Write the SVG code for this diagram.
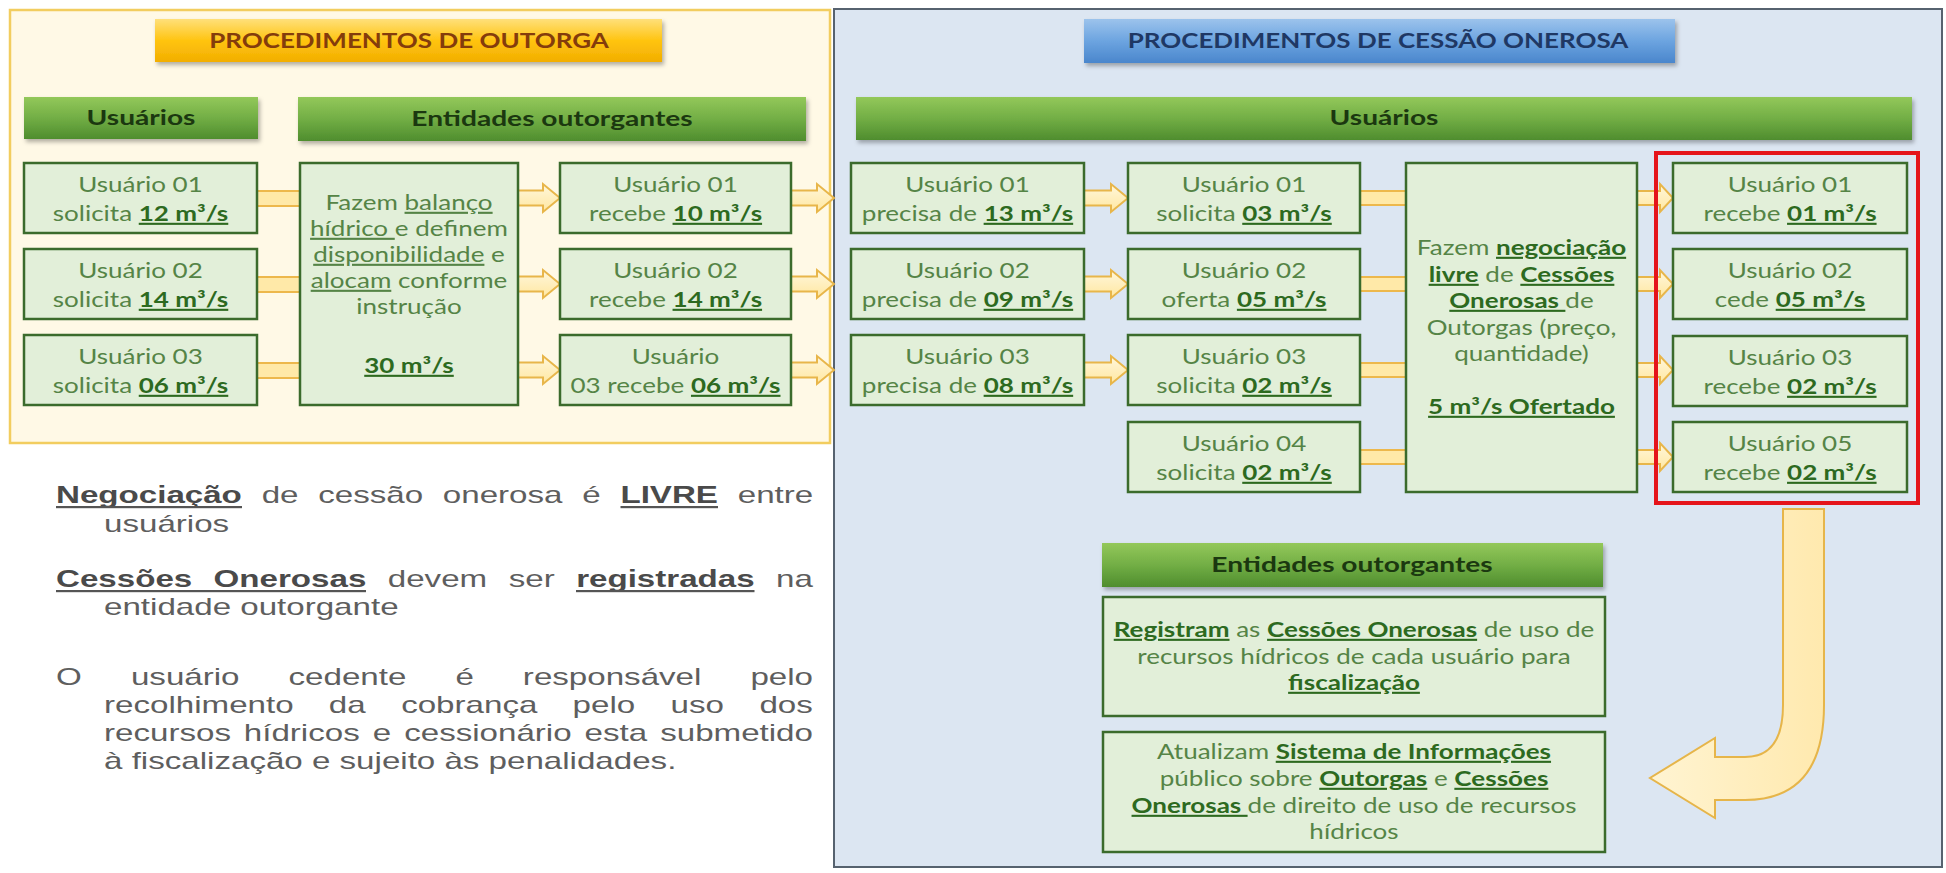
<svg xmlns="http://www.w3.org/2000/svg" width="1946" height="873" viewBox="0 0 1946 873">
<style>
.panelY{fill:#FFF9E6;stroke:#F2CD5F;stroke-width:2.5}
.panelB{fill:#DCE6F2;stroke:#56626F;stroke-width:2}
.box{fill:#E2EFD9;stroke:#3B6B2C;stroke-width:2.5}
.bar{fill:url(#gGreen);filter:url(#sh)}
.t{font-family:Lato,"Open Sans","Liberation Sans",sans-serif;font-size:21px;fill:#558446;text-anchor:middle}
.h{font-family:Lato,"Open Sans","Liberation Sans",sans-serif;font-size:21px;font-weight:bold;fill:#1B3810;text-anchor:middle}
.ti{font-family:Lato,"Open Sans","Liberation Sans",sans-serif;font-size:20px;font-weight:bold;text-anchor:middle}
.b{font-weight:bold;fill:#2D6A1F;text-decoration:underline}
.u{text-decoration:underline}
.p{font-family:"Liberation Sans",Arial,sans-serif;font-size:24px;fill:#5E5E5E}
.pb{font-weight:bold;fill:#4A4A4A}
.ul{fill:#555555}
.arr{fill:url(#gArr);stroke:#E8B64A;stroke-width:2}
.con{fill:#FFE9A8;stroke:#EDB84C;stroke-width:2}
</style>
<defs>
<linearGradient id="gGreen" x1="0" y1="0" x2="0" y2="1">
<stop offset="0" stop-color="#93C85A"/><stop offset="0.5" stop-color="#72AE45"/><stop offset="1" stop-color="#4F8D2E"/>
</linearGradient>
<linearGradient id="gOrange" x1="0" y1="0" x2="0" y2="1">
<stop offset="0" stop-color="#FFE07A"/><stop offset="0.5" stop-color="#FFC411"/><stop offset="1" stop-color="#F2AE00"/>
</linearGradient>
<linearGradient id="gBlue" x1="0" y1="0" x2="0" y2="1">
<stop offset="0" stop-color="#9CC3EC"/><stop offset="0.5" stop-color="#6CA4E0"/><stop offset="1" stop-color="#4A86CC"/>
</linearGradient>
<linearGradient id="gArr" x1="0" y1="0" x2="0" y2="1">
<stop offset="0" stop-color="#FFF7DC"/><stop offset="1" stop-color="#FFE7A0"/>
</linearGradient>
<linearGradient id="gBig" x1="0" y1="0" x2="1" y2="0">
<stop offset="0" stop-color="#FFF4D2"/><stop offset="1" stop-color="#FFE9AE"/>
</linearGradient>
<filter id="sh" x="-5%" y="-30%" width="110%" height="170%">
<feDropShadow dx="2" dy="3" stdDeviation="2" flood-color="#000" flood-opacity="0.3"/>
</filter>
</defs>

<rect width="1946" height="873" fill="#FFFFFF"/>

<g id="panel-outorga">
<rect class="panelY" x="10" y="10" width="820" height="433"/>
</g>
<g id="panel-cessao">
<rect class="panelB" x="834" y="9" width="1108" height="858"/>
</g>

<g id="title-outorga">
<rect x="155" y="19" width="507" height="43" fill="url(#gOrange)" filter="url(#sh)"/>
<text class="ti" fill="#843C0C" transform="translate(409,48) scale(1.3,1)">PROCEDIMENTOS DE OUTORGA</text>
</g>
<g id="title-cessao">
<rect x="1084" y="19" width="591" height="44" fill="url(#gBlue)" filter="url(#sh)"/>
<text class="ti" fill="#1F3864" transform="translate(1378,48) scale(1.3,1)">PROCEDIMENTOS DE CESSÃO ONEROSA</text>
</g>

<g id="connectors">
<rect class="con" x="257" y="191" width="43" height="15"/>
<rect class="con" x="257" y="277" width="43" height="15"/>
<rect class="con" x="257" y="363" width="43" height="15"/>
<path class="arr" d="M518,190.5H543V184L560,198L543,212V205.5H518Z"/>
<path class="arr" d="M518,276.5H543V270L560,284L543,298V291.5H518Z"/>
<path class="arr" d="M518,362.5H543V356L560,370L543,384V377.5H518Z"/>
<path class="arr" d="M791,190.5H817V184L834,198L817,212V205.5H791Z"/>
<path class="arr" d="M791,276.5H817V270L834,284L817,298V291.5H791Z"/>
<path class="arr" d="M791,362.5H817V356L834,370L817,384V377.5H791Z"/>
<path class="arr" d="M1084,190.5H1111V184L1128,198L1111,212V205.5H1084Z"/>
<path class="arr" d="M1084,276.5H1111V270L1128,284L1111,298V291.5H1084Z"/>
<path class="arr" d="M1084,362.5H1111V356L1128,370L1111,384V377.5H1084Z"/>
<rect class="con" x="1360" y="191" width="46" height="14"/>
<rect class="con" x="1360" y="277" width="46" height="14"/>
<rect class="con" x="1360" y="363" width="46" height="14"/>
<rect class="con" x="1360" y="450" width="46" height="14"/>
<path class="arr" d="M1637,191H1660V184L1673,198L1660,212V205H1637Z"/>
<path class="arr" d="M1637,277H1660V270L1673,284L1660,298V291H1637Z"/>
<path class="arr" d="M1637,363H1660V356L1673,370L1660,384V377H1637Z"/>
<path class="arr" d="M1637,450H1660V443L1673,457L1660,471V464H1637Z"/>
<path d="M1783,509H1824V705Q1824,800 1745,800H1715V818L1650,778L1715,738V757H1745Q1783,757 1783,705Z" fill="url(#gBig)" stroke="#E6B54A" stroke-width="2"/>
</g>

<g id="hdr-usuarios-1">
<rect class="bar" x="24" y="97" width="234" height="42"/>
<text class="h" transform="translate(141,125) scale(1.34,1)">Usuários</text>
</g>
<g id="hdr-entidades-1">
<rect class="bar" x="298" y="97" width="508" height="44"/>
<text class="h" transform="translate(552,126) scale(1.34,1)">Entidades outorgantes</text>
</g>

<g id="o-u1">
<rect class="box" x="24" y="163" width="233" height="70"/>
<text class="t" transform="translate(140.5,192) scale(1.24,1)">Usuário 01</text>
<text class="t" transform="translate(140.5,221) scale(1.24,1)">solicita <tspan class="b">12 m³/s</tspan></text>
</g>
<g id="o-u2">
<rect class="box" x="24" y="249" width="233" height="70"/>
<text class="t" transform="translate(140.5,278) scale(1.24,1)">Usuário 02</text>
<text class="t" transform="translate(140.5,307) scale(1.24,1)">solicita <tspan class="b">14 m³/s</tspan></text>
</g>
<g id="o-u3">
<rect class="box" x="24" y="335" width="233" height="70"/>
<text class="t" transform="translate(140.5,364) scale(1.24,1)">Usuário 03</text>
<text class="t" transform="translate(140.5,393) scale(1.24,1)">solicita <tspan class="b">06 m³/s</tspan></text>
</g>

<g id="o-entidade">
<rect class="box" x="300" y="163" width="218" height="242"/>
<text class="t" transform="translate(409,210) scale(1.24,1)">Fazem <tspan class="u">balanço</tspan></text>
<text class="t" transform="translate(409,236) scale(1.24,1)"><tspan class="u">hídrico </tspan>e definem</text>
<text class="t" transform="translate(409,262) scale(1.24,1)"><tspan class="u">disponibilidade</tspan> e</text>
<text class="t" transform="translate(409,288) scale(1.24,1)"><tspan class="u">alocam</tspan> conforme</text>
<text class="t" transform="translate(409,314) scale(1.24,1)">instrução</text>
<text class="t" transform="translate(409,373) scale(1.24,1)"><tspan class="b">30 m³/s</tspan></text>
</g>

<g id="o-r1">
<rect class="box" x="560" y="163" width="231" height="70"/>
<text class="t" transform="translate(675.5,192) scale(1.24,1)">Usuário 01</text>
<text class="t" transform="translate(675.5,221) scale(1.24,1)">recebe <tspan class="b">10 m³/s</tspan></text>
</g>
<g id="o-r2">
<rect class="box" x="560" y="249" width="231" height="70"/>
<text class="t" transform="translate(675.5,278) scale(1.24,1)">Usuário 02</text>
<text class="t" transform="translate(675.5,307) scale(1.24,1)">recebe <tspan class="b">14 m³/s</tspan></text>
</g>
<g id="o-r3">
<rect class="box" x="560" y="335" width="231" height="70"/>
<text class="t" transform="translate(675.5,364) scale(1.24,1)">Usuário</text>
<text class="t" transform="translate(675.5,393) scale(1.24,1)">03 recebe <tspan class="b">06 m³/s</tspan></text>
</g>

<g id="hdr-usuarios-2">
<rect class="bar" x="856" y="97" width="1056" height="43"/>
<text class="h" transform="translate(1384,125) scale(1.34,1)">Usuários</text>
</g>

<g id="c-p1">
<rect class="box" x="851" y="163" width="233" height="70"/>
<text class="t" transform="translate(967.5,192) scale(1.24,1)">Usuário 01</text>
<text class="t" transform="translate(967.5,221) scale(1.24,1)">precisa de <tspan class="b">13 m³/s</tspan></text>
</g>
<g id="c-p2">
<rect class="box" x="851" y="249" width="233" height="70"/>
<text class="t" transform="translate(967.5,278) scale(1.24,1)">Usuário 02</text>
<text class="t" transform="translate(967.5,307) scale(1.24,1)">precisa de <tspan class="b">09 m³/s</tspan></text>
</g>
<g id="c-p3">
<rect class="box" x="851" y="335" width="233" height="70"/>
<text class="t" transform="translate(967.5,364) scale(1.24,1)">Usuário 03</text>
<text class="t" transform="translate(967.5,393) scale(1.24,1)">precisa de <tspan class="b">08 m³/s</tspan></text>
</g>

<g id="c-s1">
<rect class="box" x="1128" y="163" width="232" height="70"/>
<text class="t" transform="translate(1244,192) scale(1.24,1)">Usuário 01</text>
<text class="t" transform="translate(1244,221) scale(1.24,1)">solicita <tspan class="b">03 m³/s</tspan></text>
</g>
<g id="c-s2">
<rect class="box" x="1128" y="249" width="232" height="70"/>
<text class="t" transform="translate(1244,278) scale(1.24,1)">Usuário 02</text>
<text class="t" transform="translate(1244,307) scale(1.24,1)">oferta <tspan class="b">05 m³/s</tspan></text>
</g>
<g id="c-s3">
<rect class="box" x="1128" y="335" width="232" height="70"/>
<text class="t" transform="translate(1244,364) scale(1.24,1)">Usuário 03</text>
<text class="t" transform="translate(1244,393) scale(1.24,1)">solicita <tspan class="b">02 m³/s</tspan></text>
</g>
<g id="c-s4">
<rect class="box" x="1128" y="422" width="232" height="70"/>
<text class="t" transform="translate(1244,451) scale(1.24,1)">Usuário 04</text>
<text class="t" transform="translate(1244,480) scale(1.24,1)">solicita <tspan class="b">02 m³/s</tspan></text>
</g>

<g id="c-negociacao">
<rect class="box" x="1406" y="163" width="231" height="329"/>
<text class="t" transform="translate(1521.5,255) scale(1.24,1)">Fazem <tspan class="b">negociação</tspan></text>
<text class="t" transform="translate(1521.5,282) scale(1.24,1)"><tspan class="b">livre</tspan> de <tspan class="b">Cessões</tspan></text>
<text class="t" transform="translate(1521.5,308) scale(1.24,1)"><tspan class="b">Onerosas </tspan>de</text>
<text class="t" transform="translate(1521.5,335) scale(1.24,1)">Outorgas (preço,</text>
<text class="t" transform="translate(1521.5,361) scale(1.24,1)">quantidade)</text>
<text class="t" transform="translate(1521.5,414) scale(1.24,1)"><tspan class="b">5 m³/s Ofertado</tspan></text>
</g>

<g id="c-resultado">
<rect x="1656" y="153" width="262" height="350" fill="none" stroke="#E5141B" stroke-width="4"/>
</g>
<g id="c-r1">
<rect class="box" x="1673" y="163" width="234" height="70"/>
<text class="t" transform="translate(1790,192) scale(1.24,1)">Usuário 01</text>
<text class="t" transform="translate(1790,221) scale(1.24,1)">recebe <tspan class="b">01 m³/s</tspan></text>
</g>
<g id="c-r2">
<rect class="box" x="1673" y="249" width="234" height="70"/>
<text class="t" transform="translate(1790,278) scale(1.24,1)">Usuário 02</text>
<text class="t" transform="translate(1790,307) scale(1.24,1)">cede <tspan class="b">05 m³/s</tspan></text>
</g>
<g id="c-r3">
<rect class="box" x="1673" y="336" width="234" height="70"/>
<text class="t" transform="translate(1790,365) scale(1.24,1)">Usuário 03</text>
<text class="t" transform="translate(1790,394) scale(1.24,1)">recebe <tspan class="b">02 m³/s</tspan></text>
</g>
<g id="c-r4">
<rect class="box" x="1673" y="422" width="234" height="70"/>
<text class="t" transform="translate(1790,451) scale(1.24,1)">Usuário 05</text>
<text class="t" transform="translate(1790,480) scale(1.24,1)">recebe <tspan class="b">02 m³/s</tspan></text>
</g>

<g id="hdr-entidades-2">
<rect class="bar" x="1102" y="543" width="501" height="44"/>
<text class="h" transform="translate(1352,572) scale(1.34,1)">Entidades outorgantes</text>
</g>
<g id="c-registram">
<rect class="box" x="1103" y="597" width="502" height="119"/>
<text class="t" transform="translate(1354,637) scale(1.24,1)"><tspan class="b">Registram</tspan> as <tspan class="b">Cessões Onerosas</tspan> de uso de</text>
<text class="t" transform="translate(1354,664) scale(1.24,1)">recursos hídricos de cada usuário para</text>
<text class="t" transform="translate(1354,690) scale(1.24,1)"><tspan class="b">fiscalização</tspan></text>
</g>
<g id="c-atualizam">
<rect class="box" x="1103" y="732" width="502" height="120"/>
<text class="t" transform="translate(1354,759) scale(1.24,1)">Atualizam <tspan class="b">Sistema de Informações</tspan></text>
<text class="t" transform="translate(1354,786) scale(1.24,1)">público sobre <tspan class="b">Outorgas</tspan> e <tspan class="b">Cessões</tspan></text>
<text class="t" transform="translate(1354,813) scale(1.24,1)"><tspan class="b">Onerosas </tspan>de direito de uso de recursos</text>
<text class="t" transform="translate(1354,839) scale(1.24,1)">hídricos</text>
</g>

<g id="notes">
<g class="p" transform="scale(1.38,1)">
<text y="503"><tspan x="40.6" class="pb">Negociação</tspan><tspan x="189.6">de</tspan><tspan x="230.6">cessão</tspan><tspan x="320.9">onerosa</tspan><tspan x="422">é</tspan><tspan x="449.6" class="pb">LIVRE</tspan><tspan x="534.6">entre</tspan></text>
<text y="532" x="75.4">usuários</text>
<text y="587"><tspan x="40.6" class="pb">Cessões</tspan><tspan x="154.8" class="pb">Onerosas</tspan><tspan x="281">devem</tspan><tspan x="368.6">ser</tspan><tspan x="417.5" class="pb">registradas</tspan><tspan x="562.3">na</tspan></text>
<text y="615" x="75.4">entidade outorgante</text>
<text y="685"><tspan x="40.6">O</tspan><tspan x="94.9">usuário</tspan><tspan x="209.1">cedente</tspan><tspan x="330">é</tspan><tspan x="378.9">responsável</tspan><tspan x="543.8">pelo</tspan></text>
<text y="713"><tspan x="75.4">recolhimento</tspan><tspan x="238.3">da</tspan><tspan x="290.7">cobrança</tspan><tspan x="414.9">pelo</tspan><tspan x="485.9">uso</tspan><tspan x="550.3">dos</tspan></text>
<text y="741"><tspan x="75.4">recursos</tspan><tspan x="176.7">hídricos</tspan><tspan x="270.1">e</tspan><tspan x="292.9">cessionário</tspan><tspan x="423.6">esta</tspan><tspan x="478.4">submetido</tspan></text>
<text y="769" x="75.4">à fiscalização e sujeito às penalidades.</text>
</g>
<rect class="ul" x="56" y="506" width="186" height="2.2"/>
<rect class="ul" x="620.5" y="506" width="97.5" height="2.2"/>
<rect class="ul" x="56" y="590" width="310" height="2.2"/>
<rect class="ul" x="576" y="590" width="178.5" height="2.2"/>
</g>
</svg>
